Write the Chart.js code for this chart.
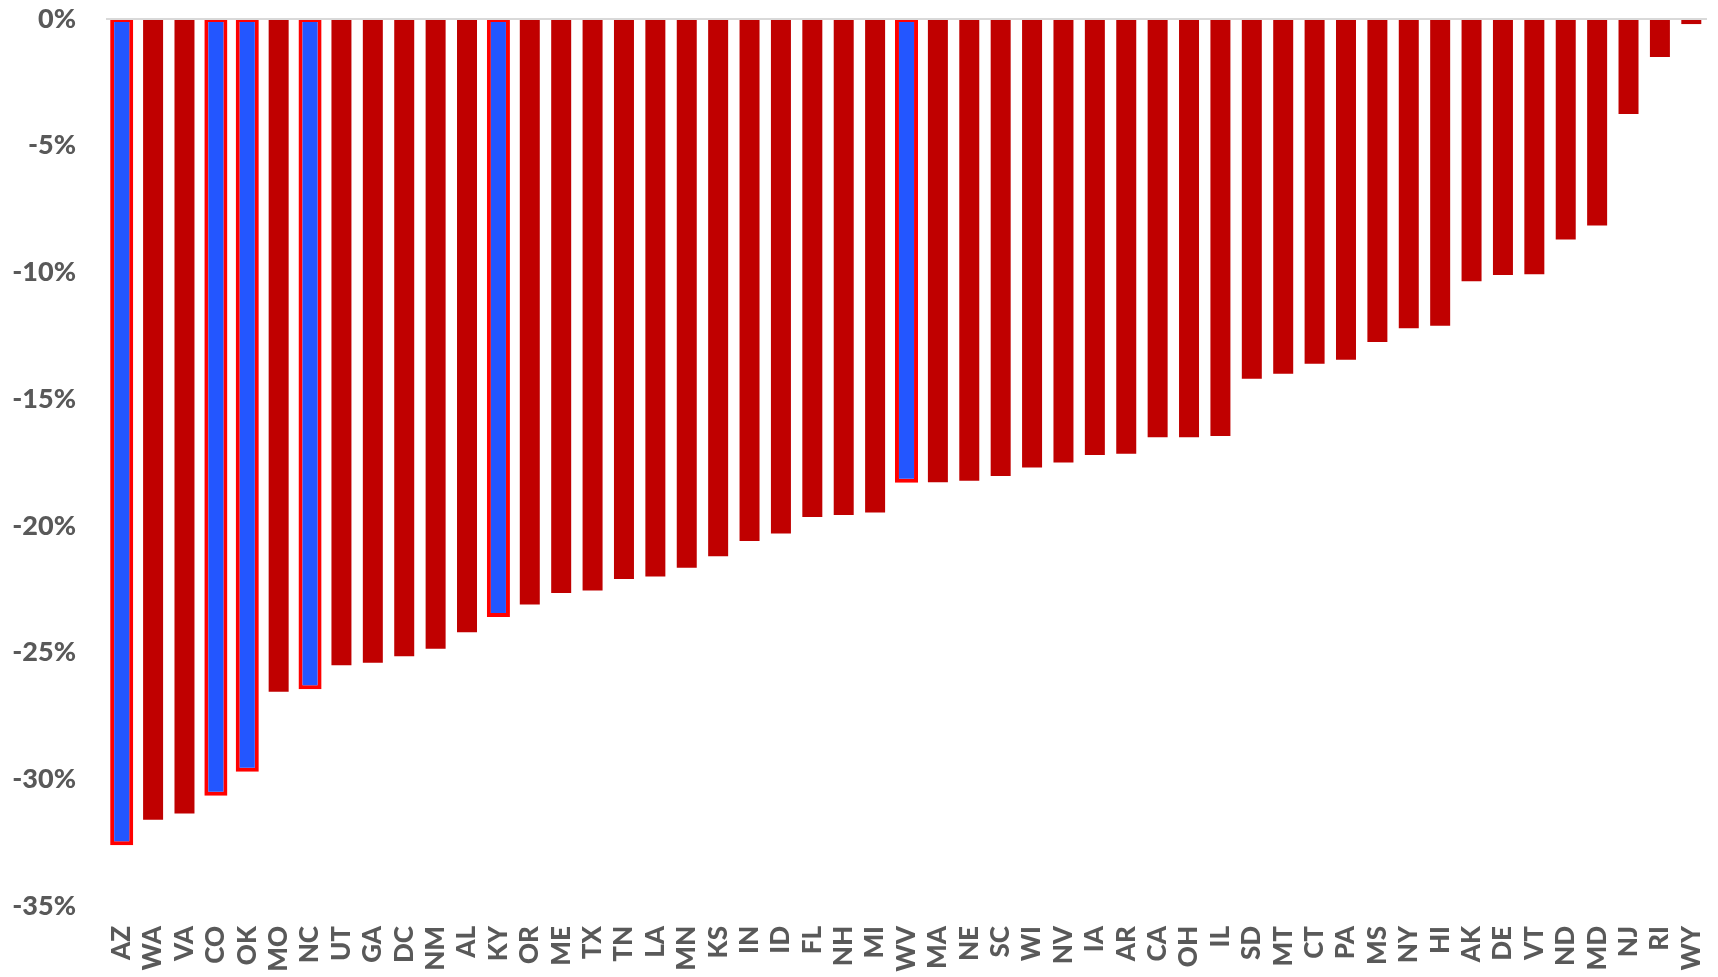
<!DOCTYPE html>
<html>
<head>
<meta charset="utf-8">
<script src="https://cdn.jsdelivr.net/npm/chart.js@4/dist/chart.umd.min.js"></script>
<style>
  html, body { margin: 0; padding: 0; background: #ffffff; }
  #wrap { width: 1718px; height: 977px; position: relative; }
  canvas { display: block; }
</style>
</head>
<body>
<div id="wrap"><canvas id="chart" width="1718" height="977"></canvas></div>
<script>
// States, ordered from the largest decline to the smallest
const states = ['AZ','WA','VA','CO','OK','MO','NC','UT','GA','DC','NM','AL','KY','OR','ME','TX','TN','LA','MN','KS',
  'IN','ID','FL','NH','MI','WV','MA','NE','SC','WI','NV','IA','AR','CA','OH','IL','SD','MT','CT','PA',
  'MS','NY','HI','AK','DE','VT','ND','MD','NJ','RI','WY'];

// Percent change per state
const changePct = [-32.6, -31.6, -31.35, -30.65, -29.7, -26.55, -26.45, -25.5, -25.4, -25.15, -24.85, -24.2, -23.6, -23.1, -22.65, -22.55, -22.1, -22.0, -21.65, -21.2,
  -20.6, -20.3, -19.65, -19.57, -19.47, -18.3, -18.28, -18.22, -18.03, -17.7, -17.5, -17.2, -17.15, -16.5, -16.5, -16.45, -14.2, -14.0, -13.6, -13.45,
  -12.75, -12.2, -12.1, -10.35, -10.1, -10.07, -8.7, -8.15, -3.75, -1.5, -0.2];

// States drawn in blue with a red outline
const highlighted = ['AZ','CO','OK','NC','KY','WV'];

// Value-axis ticks
const yTicks = [0, -5, -10, -15, -20, -25, -30, -35];

const isHi = s => highlighted.includes(s);
const redValues = changePct.map((v, i) => isHi(states[i]) ? null : v);
const blueValues = changePct.map((v, i) => isHi(states[i]) ? v : null);

const labelColor = '#595959';
const labelFont = 'Lato, "Open Sans", sans-serif';

new Chart(document.getElementById('chart'), {
  type: 'bar',
  data: {
    labels: states,
    datasets: [
      {
        data: redValues,
        backgroundColor: '#C00000',
        borderWidth: 0,
        grouped: false,
        categoryPercentage: 1,
        barPercentage: 0.637
      },
      {
        data: blueValues,
        backgroundColor: '#2356FF',
        borderColor: '#FF0000',
        borderWidth: { top: 2, left: 4, right: 4, bottom: 4 },
        borderSkipped: false,
        grouped: false,
        categoryPercentage: 1,
        barPercentage: 0.735
      }
    ]
  },
  options: {
    responsive: false,
    maintainAspectRatio: false,
    devicePixelRatio: 1,
    animation: false,
    layout: { padding: { top: 19, right: 11, bottom: 0, left: 0 } },
    plugins: { legend: { display: false }, tooltip: { enabled: false } },
    scales: {
      x: {
        grid: { display: false, drawTicks: false },
        border: { display: false },
        ticks: {
          autoSkip: false,
          minRotation: 90,
          maxRotation: 90,
          padding: 20,
          color: labelColor,
          font: { family: labelFont, size: 26, weight: 900 }
        },
        afterFit(scale) {
          scale.height = 71;
          scale.paddingLeft = 0;
          scale.paddingRight = 0;
        }
      },
      y: {
        min: -35,
        max: 0,
        afterBuildTicks(scale) {
          scale.ticks = yTicks.map(v => ({ value: v }));
        },
        grid: {
          drawTicks: false,
          lineWidth: 2,
          color: ctx => (ctx.tick && ctx.tick.value === 0) ? '#D9D9D9' : 'rgba(0,0,0,0)'
        },
        border: { display: false },
        ticks: {
          padding: 30,
          color: labelColor,
          font: { family: labelFont, size: 27, weight: 900 },
          callback: v => v + '%'
        },
        afterFit(scale) {
          scale.width = 106;
          scale.paddingTop = 0;
          scale.paddingBottom = 0;
        }
      }
    }
  }
});
</script>
</body>
</html>
